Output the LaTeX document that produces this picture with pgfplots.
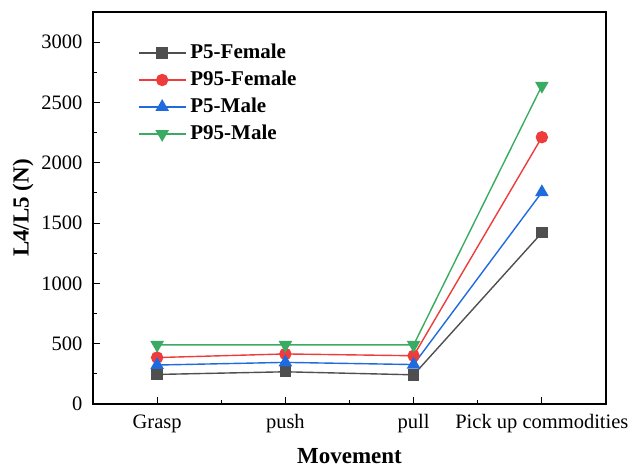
\documentclass[border=0pt]{standalone}
\usepackage{fontspec}
\setmainfont{Liberation Serif}
\usepackage{pgfplots}
\pgfplotsset{compat=1.18}
\definecolor{cgray}{HTML}{4F4F4F}
\definecolor{cred}{HTML}{EE3B3B}
\definecolor{cblue}{HTML}{1F6BDE}
\definecolor{cgreen}{HTML}{3AAB62}
\begin{document}
\begin{tikzpicture}
\useasboundingbox (-93bp,-66bp) rectangle (541bp,404bp);
\begin{axis}[
  scale only axis, width=513bp, height=392bp,
  xmin=0.5, xmax=4.5, ymin=0, ymax=3250,
  xtick={1,2,3,4},
  xticklabels={Grasp, push, pull, Pick up commodities},
  minor x tick num=1,
  ytick={0,500,1000,1500,2000,2500,3000},
  minor y tick num=1,
  tick align=inside,
  xtick pos=bottom, ytick pos=left,
  major tick length=7bp, minor tick length=4bp,
  every tick/.style={black, line width=0.9pt},
  axis line style={line width=1.1pt},
  /pgf/number format/assume math mode=true,
  /pgf/number format/1000 sep={},
  tick label style={font=\fontsize{20.5bp}{24bp}\selectfont},
  xticklabel style={yshift=-7bp},
  yticklabel style={xshift=-7bp},
  xlabel={\textbf{Movement}},
  ylabel={\textbf{L4/L5 (N)}},
  label style={font=\fontsize{23bp}{26bp}\selectfont},
  xlabel style={at={(axis description cs:0.5,-0.134)}, anchor=center},
  ylabel style={at={(axis description cs:-0.1365,0.5)}, anchor=center, rotate=0},
  legend cell align=left,
  legend style={draw=none, fill=none, inner sep=0bp, outer sep=0bp,
    at={(axis description cs:0.0877,0.926)}, anchor=north west,
    font=\fontsize{21bp}{24bp}\selectfont\bfseries, row sep=3bp, column sep=2bp,
    nodes={inner sep=2bp, text height=15bp, text depth=5bp}},
  legend image code/.code={
    \draw[mark repeat=2, mark phase=2, #1] plot coordinates {(0bp,0bp) (23.5bp,0bp) (47bp,0bp)};},
  every axis plot/.append style={line width=1.4pt},
]
\addplot[color=cgray, mark=square*, mark size=5bp, mark options={fill=cgray}] coordinates {(1,245) (2,267) (3,242) (4,1420)};
\addlegendentry{P5-Female}
\addplot[color=cred, mark=*, mark size=5.5bp, mark options={fill=cred}] coordinates {(1,385) (2,415) (3,400) (4,2212)};
\addlegendentry{P95-Female}
\addplot[color=cblue, mark=triangle*, mark size=6.5bp, mark options={fill=cblue}] coordinates {(1,323) (2,345) (3,327) (4,1756)};
\addlegendentry{P5-Male}
\addplot[color=cgreen, mark=triangle*, mark size=6.5bp, mark options={fill=cgreen, rotate=180}] coordinates {(1,490) (2,490) (3,490) (4,2638)};
\addlegendentry{P95-Male}
\end{axis}
\end{tikzpicture}
\end{document}
